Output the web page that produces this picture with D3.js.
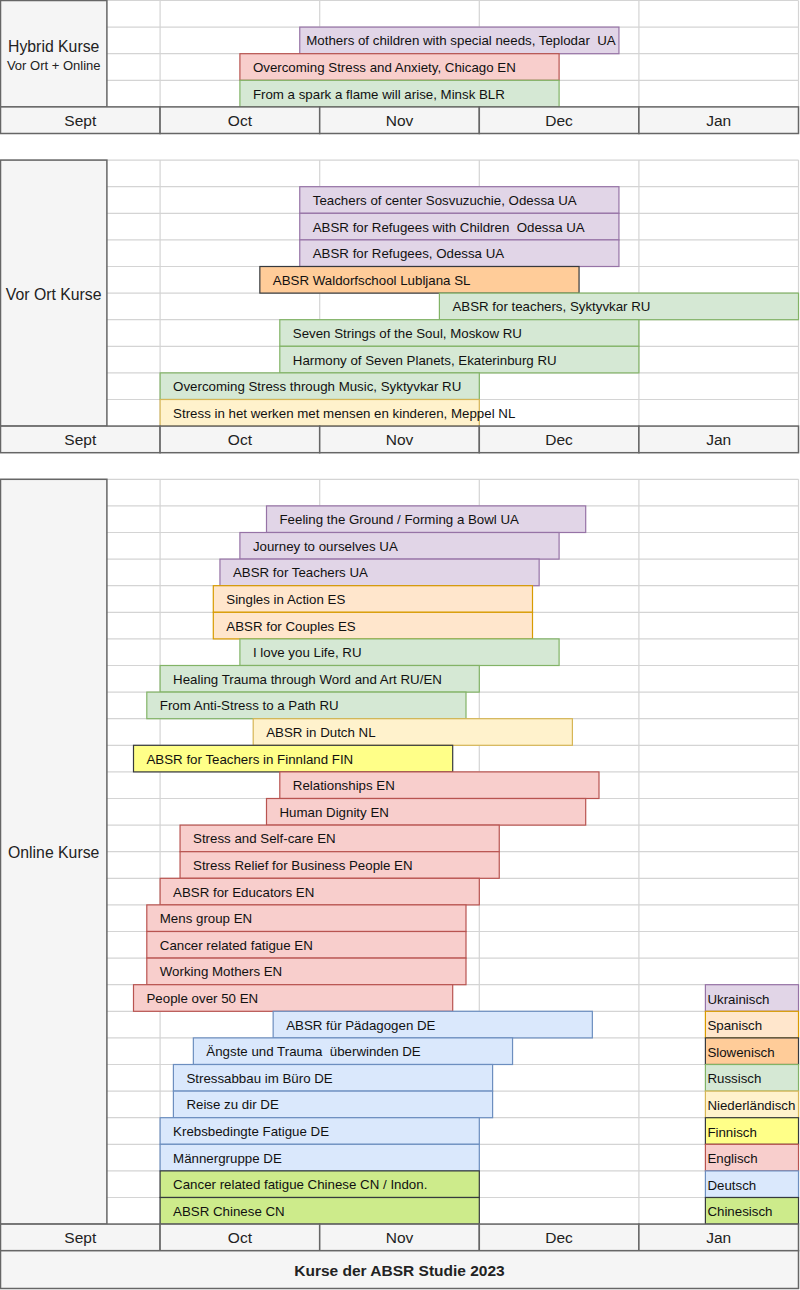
<!DOCTYPE html>
<html>
<head>
<meta charset="utf-8">
<script src="https://cdn.jsdelivr.net/npm/d3@7"></script>
<style>
  html, body { margin: 0; padding: 0; background: #fff; }
  svg { display: block; font-family: "Liberation Sans", Arial, Helvetica, sans-serif; }
  svg text { white-space: pre; }
</style>
</head>
<body>
<svg id="chart" width="800" height="1290"></svg>
<script>
// ---- DATA (time unit: 1/24 month, Sept start = 0, Jan end = 120) ----
const months = ["Sept", "Oct", "Nov", "Dec", "Jan"];

const hybridLabel = ["Hybrid Kurse", "Vor Ort + Online"];
const hybridCourses = [
  { label: "Mothers of children with special needs, Teplodar  UA", lang: "UA", start: 45, end: 93 },
  { label: "Overcoming Stress and Anxiety, Chicago EN", lang: "EN", start: 36, end: 84 },
  { label: "From a spark a flame will arise, Minsk BLR", lang: "RU", start: 36, end: 84 }
];

const vorOrtLabel = ["Vor Ort Kurse"];
const vorOrtCourses = [
  { label: "Teachers of center Sosvuzuchie, Odessa UA", lang: "UA", start: 45, end: 93 },
  { label: "ABSR for Refugees with Children  Odessa UA", lang: "UA", start: 45, end: 93 },
  { label: "ABSR for Refugees, Odessa UA", lang: "UA", start: 45, end: 93 },
  { label: "ABSR Waldorfschool Lubljana SL", lang: "SL", start: 39, end: 87 },
  { label: "ABSR for teachers, Syktyvkar RU", lang: "RU", start: 66, end: 120 },
  { label: "Seven Strings of the Soul, Moskow RU", lang: "RU", start: 42, end: 96 },
  { label: "Harmony of Seven Planets, Ekaterinburg RU", lang: "RU", start: 42, end: 96 },
  { label: "Overcoming Stress through Music, Syktyvkar RU", lang: "RU", start: 24, end: 72 },
  { label: "Stress in het werken met mensen en kinderen, Meppel NL", lang: "NL", start: 24, end: 72 }
];

const onlineLabel = ["Online Kurse"];
const onlineCourses = [
  { label: "Feeling the Ground / Forming a Bowl UA", lang: "UA", start: 40, end: 88 },
  { label: "Journey to ourselves UA", lang: "UA", start: 36, end: 84 },
  { label: "ABSR for Teachers UA", lang: "UA", start: 33, end: 81 },
  { label: "Singles in Action ES", lang: "ES", start: 32, end: 80 },
  { label: "ABSR for Couples ES", lang: "ES", start: 32, end: 80 },
  { label: "I love you Life, RU", lang: "RU", start: 36, end: 84 },
  { label: "Healing Trauma through Word and Art RU/EN", lang: "RU", start: 24, end: 72 },
  { label: "From Anti-Stress to a Path RU", lang: "RU", start: 22, end: 70 },
  { label: "ABSR in Dutch NL", lang: "NL", start: 38, end: 86 },
  { label: "ABSR for Teachers in Finnland FIN", lang: "FI", start: 20, end: 68 },
  { label: "Relationships EN", lang: "EN", start: 42, end: 90 },
  { label: "Human Dignity EN", lang: "EN", start: 40, end: 88 },
  { label: "Stress and Self-care EN", lang: "EN", start: 27, end: 75 },
  { label: "Stress Relief for Business People EN", lang: "EN", start: 27, end: 75 },
  { label: "ABSR for Educators EN", lang: "EN", start: 24, end: 72 },
  { label: "Mens group EN", lang: "EN", start: 22, end: 70 },
  { label: "Cancer related fatigue EN", lang: "EN", start: 22, end: 70 },
  { label: "Working Mothers EN", lang: "EN", start: 22, end: 70 },
  { label: "People over 50 EN", lang: "EN", start: 20, end: 68 },
  { label: "ABSR für Pädagogen DE", lang: "DE", start: 41, end: 89 },
  { label: "Ängste und Trauma  überwinden DE", lang: "DE", start: 29, end: 77 },
  { label: "Stressabbau im Büro DE", lang: "DE", start: 26, end: 74 },
  { label: "Reise zu dir DE", lang: "DE", start: 26, end: 74 },
  { label: "Krebsbedingte Fatigue DE", lang: "DE", start: 24, end: 72 },
  { label: "Männergruppe DE", lang: "DE", start: 24, end: 72 },
  { label: "Cancer related fatigue Chinese CN / Indon.", lang: "CN", start: 24, end: 72 },
  { label: "ABSR Chinese CN", lang: "CN", start: 24, end: 72 }
];

const legendCodes = ["UA", "ES", "SL", "RU", "NL", "FI", "EN", "DE", "CN"];
const legendNames = ["Ukrainisch", "Spanisch", "Slowenisch", "Russisch", "Niederländisch", "Finnisch", "Englisch", "Deutsch", "Chinesisch"];

const title = "Kurse der ABSR Studie 2023";

// ---- STYLES ----
const langFill = d3.scaleOrdinal()
  .domain(legendCodes)
  .range(["#e1d5e7", "#ffe6cc", "#ffcc99", "#d5e8d4", "#fff2cc", "#ffff88", "#f8cecc", "#dae8fc", "#cdeb8b"]);
const langStroke = d3.scaleOrdinal()
  .domain(legendCodes)
  .range(["#9673a6", "#d79b00", "#36393d", "#82b366", "#d6b656", "#36393d", "#b85450", "#6c8ebf", "#36393d"]);

const W = 798;
const svg = d3.select("#chart");

const x = d3.scaleLinear().domain([0, 120]).range([0.5, W + 0.5]);
const ROW = 26.6;
const y = d3.scaleLinear().domain([0, 1]).range([0.5, 0.5 + ROW]);

const labelBoxEnd = 16; // units: width of the section label box
const monthTicks = d3.range(0, 121, 24);

const sections = [
  { startRow: 0, label: hybridLabel, courses: hybridCourses },
  { startRow: 6, label: vorOrtLabel, courses: vorOrtCourses },
  { startRow: 18, label: onlineLabel, courses: onlineCourses, legend: true }
];

const gridColor = "#d4d4d4";
const darkStroke = "#666666";
const boxFill = "#f5f5f5";
const barFont = 13.3;

sections.forEach(sec => {
  const g = svg.append("g");
  const nRows = sec.courses.length + 1;
  const top = y(sec.startRow), bottom = y(sec.startRow + nRows);

  // horizontal grid lines
  g.selectAll("line.h").data(d3.range(nRows + 1)).join("line")
    .attr("x1", x(0)).attr("x2", x(120))
    .attr("y1", i => y(sec.startRow + i)).attr("y2", i => y(sec.startRow + i))
    .attr("stroke", gridColor).attr("stroke-width", 1.2);
  // vertical grid lines
  g.selectAll("line.v").data(monthTicks.slice(1)).join("line")
    .attr("x1", d => x(d)).attr("x2", d => x(d))
    .attr("y1", top).attr("y2", bottom)
    .attr("stroke", gridColor).attr("stroke-width", 1.2);

  // bars
  const bars = g.selectAll("g.bar").data(sec.courses).join("g");
  bars.append("rect")
    .attr("x", d => x(d.start))
    .attr("y", (d, i) => y(sec.startRow + i + 1))
    .attr("width", d => x(d.end) - x(d.start))
    .attr("height", ROW)
    .attr("fill", d => langFill(d.lang))
    .attr("stroke", d => langStroke(d.lang))
    .attr("stroke-width", 1.2);
  bars.append("text")
    .attr("x", d => x(d.start) + (d.label.startsWith("Mothers") ? 6.5 : 13))
    .attr("y", (d, i) => y(sec.startRow + i + 1.5) + 0.5)
    .attr("dominant-baseline", "central")
    .attr("font-size", barFont)
    .attr("fill", "#111")
    .text(d => d.label);

  // legend
  if (sec.legend) {
    const firstRow = sec.startRow + nRows - legendCodes.length;
    const lg = g.selectAll("g.leg").data(legendCodes).join("g");
    lg.append("rect")
      .attr("x", x(106)).attr("width", x(120) - x(106))
      .attr("y", (d, i) => y(firstRow + i)).attr("height", ROW)
      .attr("fill", d => langFill(d)).attr("stroke", d => langStroke(d)).attr("stroke-width", 1.2);
    lg.append("text")
      .attr("x", x(106) + 2)
      .attr("y", (d, i) => y(firstRow + i + 0.5) + 1)
      .attr("dominant-baseline", "central")
      .attr("font-size", barFont).attr("fill", "#111")
      .text((d, i) => legendNames[i]);
  }

  // label box
  g.append("rect")
    .attr("x", x(0)).attr("y", top)
    .attr("width", x(labelBoxEnd) - x(0)).attr("height", bottom - top)
    .attr("fill", boxFill).attr("stroke", darkStroke).attr("stroke-width", 1.5);
  const cy = (top + bottom) / 2;
  if (sec.label.length === 2) {
    g.append("text").attr("x", (x(0) + x(labelBoxEnd)) / 2).attr("y", cy - 7.5)
      .attr("text-anchor", "middle").attr("dominant-baseline", "central")
      .attr("font-size", 15.8).attr("fill", "#222").text(sec.label[0]);
    g.append("text").attr("x", (x(0) + x(labelBoxEnd)) / 2).attr("y", cy + 12)
      .attr("text-anchor", "middle").attr("dominant-baseline", "central")
      .attr("font-size", 13).attr("fill", "#222").text(sec.label[1]);
  } else {
    g.append("text").attr("x", (x(0) + x(labelBoxEnd)) / 2).attr("y", cy + 1)
      .attr("text-anchor", "middle").attr("dominant-baseline", "central")
      .attr("font-size", 15.8).attr("fill", "#222").text(sec.label[0]);
  }

  // month axis row
  const axTop = bottom;
  const ax = g.selectAll("g.ax").data(months).join("g");
  ax.append("rect")
    .attr("x", (d, i) => x(monthTicks[i])).attr("y", axTop)
    .attr("width", (d, i) => x(monthTicks[i + 1]) - x(monthTicks[i])).attr("height", ROW)
    .attr("fill", boxFill).attr("stroke", darkStroke).attr("stroke-width", 1.5);
  ax.append("text")
    .attr("x", (d, i) => (x(monthTicks[i]) + x(monthTicks[i + 1])) / 2)
    .attr("y", axTop + ROW / 2 + 0.5)
    .attr("text-anchor", "middle").attr("dominant-baseline", "central")
    .attr("font-size", 15.5).attr("fill", "#222").text(d => d);
});

// title box
const tTop = y(47);
svg.append("rect")
  .attr("x", x(0)).attr("y", tTop).attr("width", x(120) - x(0)).attr("height", 1288.5 - tTop)
  .attr("fill", boxFill).attr("stroke", darkStroke).attr("stroke-width", 1.5);
svg.append("text")
  .attr("x", (x(0) + x(120)) / 2).attr("y", (tTop + 1288.5) / 2 + 1)
  .attr("text-anchor", "middle").attr("dominant-baseline", "central")
  .attr("font-size", 15.5).attr("font-weight", "bold").attr("fill", "#222").text(title);
</script>
</body>
</html>
